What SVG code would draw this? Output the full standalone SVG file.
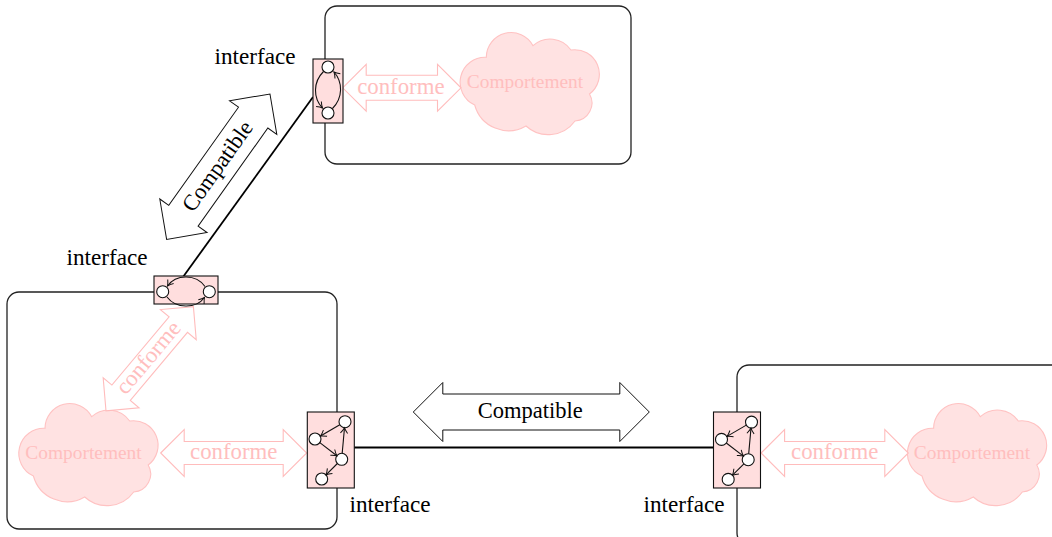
<svg xmlns="http://www.w3.org/2000/svg" width="1052" height="537" viewBox="0 0 1052 537">
<style>
.box{fill:none;stroke:#222;stroke-width:1.3}
.iface{fill:#ffdede;stroke:#111;stroke-width:1.1}
.node{fill:#fff;stroke:#111;stroke-width:1.1}
.edge{fill:none;stroke:#111;stroke-width:1.1;marker-end:url(#tip)}
.wire{fill:none;stroke:#000;stroke-width:1.8}
.compat{fill:#fff;stroke:#111;stroke-width:1}
.conf{fill:#fff;stroke:#ffbcbc;stroke-width:1.1}
.cloud{fill:#ffe2e2;stroke:#ffc2c2;stroke-width:1.1}
.lbl{font-family:"Liberation Serif","Times New Roman",serif;font-size:22.5px;fill:#000}
.ilbl{font-family:"Liberation Serif","Times New Roman",serif;font-size:23.2px;fill:#000}
.ctext{font-family:"Liberation Serif","Times New Roman",serif;font-size:22.8px;fill:#ffbebe}
.btext{font-family:"Liberation Serif","Times New Roman",serif;font-size:19.4px;fill:#ffbebe}
</style>
<defs>
<marker id="tip" markerWidth="10" markerHeight="10" refX="0" refY="0" viewBox="-7 -5 10 10" orient="auto" markerUnits="userSpaceOnUse">
<path d="M-5.5,-3.6 Q-2.4,-1 0,0 Q-2.4,1 -5.5,3.6" fill="none" stroke="#111" stroke-width="1"/>
</marker>
<path id="cloudShape" d="M-56.3,22 A25,25 0 0 1 -44.7,-25.7 A24.8,24.8 0 0 1 2,-37.3 A25.3,25.3 0 0 1 40,-33 A24.6,24.6 0 0 1 58.5,11 A18,18 0 0 1 44,38 A33,33 0 0 1 -5,43 A35,35 0 0 1 -56.3,22 Z"/>
<g id="graph4">
<circle class="node" cx="37.7" cy="9.7" r="6"/>
<circle class="node" cx="7.7" cy="27" r="6"/>
<circle class="node" cx="34.4" cy="47.3" r="6"/>
<circle class="node" cx="14.4" cy="67" r="6"/>
<path class="edge" d="M32.5,12.7 L13.2,24"/>
<path class="edge" d="M12.5,30.6 L29.6,43.7"/>
<path class="edge" d="M34.9,41.3 L37.2,15.7"/>
<path class="edge" d="M30.1,51.5 L18.7,62.8"/>
</g>
</defs>

<g id="connectors">
<line class="wire" x1="183" y1="277" x2="313" y2="97"/>
<line class="wire" x1="354" y1="447.5" x2="713" y2="447.5"/>
</g>

<g id="box-top"><rect class="box" x="325" y="6" width="306" height="158" rx="12"/></g>
<g id="box-left"><rect class="box" x="7" y="292" width="330" height="237" rx="12"/></g>
<g id="box-right"><rect class="box" x="737" y="365" width="330" height="180" rx="12"/></g>

<g id="cloud-top">
<use href="#cloudShape" class="cloud" x="531" y="83"/>
<text class="btext" x="525" y="88" text-anchor="middle">Comportement</text>
</g>
<g id="cloud-left">
<use href="#cloudShape" class="cloud" x="89.7" y="454"/>
<text class="btext" x="83.5" y="459" text-anchor="middle">Comportement</text>
</g>
<g id="cloud-right">
<use href="#cloudShape" class="cloud" x="978.3" y="454"/>
<text class="btext" x="972" y="459" text-anchor="middle">Comportement</text>
</g>

<g id="conforme-top" transform="translate(401.85,87.8)">
<polygon class="conf" points="-59.15,0 -35.65,-23.4 -35.65,-12.5 35.65,-12.5 35.65,-23.4 59.15,0 35.65,23.4 35.65,12.5 -35.65,12.5 -35.65,23.4"/>
<text class="ctext" x="-1" y="5.7" text-anchor="middle">conforme</text>
</g>
<g id="conforme-left" transform="translate(233.7,453)">
<polygon class="conf" points="-73,0 -49.5,-23.4 -49.5,-11.5 49.5,-11.5 49.5,-23.4 73,0 49.5,23.4 49.5,11.5 -49.5,11.5 -49.5,23.4"/>
<text class="ctext" x="0" y="5.5" text-anchor="middle">conforme</text>
</g>
<g id="conforme-right" transform="translate(834.7,453)">
<polygon class="conf" points="-73.6,0 -50.1,-23.4 -50.1,-11.5 50.1,-11.5 50.1,-23.4 73.6,0 50.1,23.4 50.1,11.5 -50.1,11.5 -50.1,23.4"/>
<text class="ctext" x="0" y="5.5" text-anchor="middle">conforme</text>
</g>
<g id="conforme-diag" transform="translate(149.7,358.7) rotate(-50)">
<polygon class="conf" points="-68,0 -44.5,-23.4 -44.5,-12 44.5,-12 44.5,-23.4 68,0 44.5,23.4 44.5,12 -44.5,12 -44.5,23.4"/>
<text class="ctext" x="0" y="5.5" text-anchor="middle">conforme</text>
</g>

<g id="compatible-h" transform="translate(531.3,412)">
<polygon class="compat" points="-118,0 -88.5,-29.5 -88.5,-18 88.5,-18 88.5,-29.5 118,0 88.5,29.5 88.5,18 -88.5,18 -88.5,29.5"/>
<text class="lbl" x="-1" y="6.3" text-anchor="middle">Compatible</text>
</g>
<g id="compatible-diag" transform="translate(218.3,166.7) rotate(-54.6)">
<polygon class="compat" points="-89.2,0 -60.2,-29 -60.2,-18 60.2,-18 60.2,-29 89.2,0 60.2,29 60.2,18 -60.2,18 -60.2,29"/>
<text class="lbl" x="0" y="6.3" text-anchor="middle">Compatible</text>
</g>

<g id="iface-top">
<rect class="iface" x="313" y="59" width="30" height="64"/>
<circle class="node" cx="328" cy="67" r="6"/>
<circle class="node" cx="328" cy="113" r="6"/>
<path class="edge" d="M323.5,71.5 C313,82 313,98 322.5,108"/>
<path class="edge" d="M332.5,108.5 C343,98 343,82 334,72"/>
<text class="ilbl" x="255" y="64" text-anchor="middle">interface</text>
</g>
<g id="iface-mid">
<rect class="iface" x="154" y="276" width="64" height="28"/>
<circle class="node" cx="162.7" cy="291.7" r="6"/>
<circle class="node" cx="209.3" cy="291.7" r="6"/>
<path class="edge" d="M205,286.5 C196,274 176,274 167.5,286"/>
<path class="edge" d="M167,297 C176,309 196,309 204.5,297.5"/>
<text class="ilbl" x="107" y="265" text-anchor="middle">interface</text>
</g>
<g id="iface-left">
<rect class="iface" x="307.3" y="412" width="47" height="76"/>
<use href="#graph4" x="307.3" y="412"/>
<text class="ilbl" x="390" y="512" text-anchor="middle">interface</text>
</g>
<g id="iface-right">
<rect class="iface" x="713.5" y="412" width="47" height="76"/>
<use href="#graph4" x="713.8" y="412.4"/>
<text class="ilbl" x="684" y="512" text-anchor="middle">interface</text>
</g>
</svg>
